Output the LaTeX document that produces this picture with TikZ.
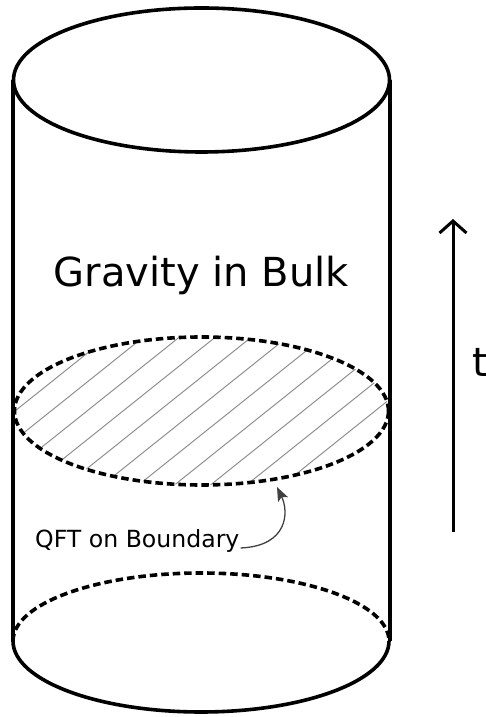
\documentclass[tikz,border=0pt]{standalone}
\usepackage{fontspec}
\setmainfont{DejaVu Sans}
\usetikzlibrary{arrows.meta}
\tikzset{
  solidline/.style={line width=3.6pt},
  sideline/.style={line width=4pt},
  dashline/.style={line width=3.6pt, dash pattern=on 7.5pt off 4pt},
  hatchline/.style={draw=gray!90, line width=1pt},
  pointer/.style={draw=black!75, line width=1.3pt, -{Stealth[length=14pt,width=11pt,inset=3pt]}},
  timearrow/.style={line width=3pt, -{Straight Barb[length=12pt,width=27pt]}},
}
\begin{document}
\begin{tikzpicture}[x=1pt,y=1pt]
\useasboundingbox (0,0) rectangle (486,717);
% centres
\coordinate (topc) at (201.5,637);
\coordinate (midc) at (201.5,306);
\coordinate (botc) at (201,76);
% side lines
\coordinate (tl) at (13,637);
\coordinate (bl) at (13,76);
\coordinate (tr) at (389.5,637);
\coordinate (br) at (389.5,76);
\draw[sideline] (tl) -- (bl);
\draw[sideline] (tr) -- (br);
% top ellipse
\draw[solidline] (topc) ellipse [x radius=188, y radius=72];
% hatched middle ellipse
\begin{scope}
  \clip (midc) ellipse [x radius=187, y radius=74];
  \foreach \k in {-6,...,16}{
    \draw[hatchline] ({15+\k*36-250},{306-200}) -- ({15+\k*36+250},{306+200});
  }
\end{scope}
\draw[dashline] (midc) ellipse [x radius=187, y radius=74];
% bottom ellipse
\draw[solidline] (bl) arc[start angle=180, end angle=360, x radius=188, y radius=71];
\draw[dashline] (bl) arc[start angle=180, end angle=0, x radius=188, y radius=68];
% texts
\node[anchor=base, font=\fontsize{40}{48}\selectfont, inner sep=0] (bulk) at (201.5,430) {Gravity in Bulk};
\node[anchor=base west, font=\fontsize{23.6}{28}\selectfont, inner sep=0] (qft) at (35,169) {QFT on Boundary};
\coordinate (tip) at (277,230);
\draw[pointer] ([xshift=1pt]qft.base east) .. controls (288,171) and (289,205) .. (tip);
% time arrow
\coordinate (tlow) at (453,185);
\coordinate (thigh) at (453,498);
\draw[timearrow] (tlow) -- (thigh);
\node[anchor=base west, font=\fontsize{40}{48}\selectfont, inner sep=0] (tlabel) at (472,340) {t};
\end{tikzpicture}
\end{document}
